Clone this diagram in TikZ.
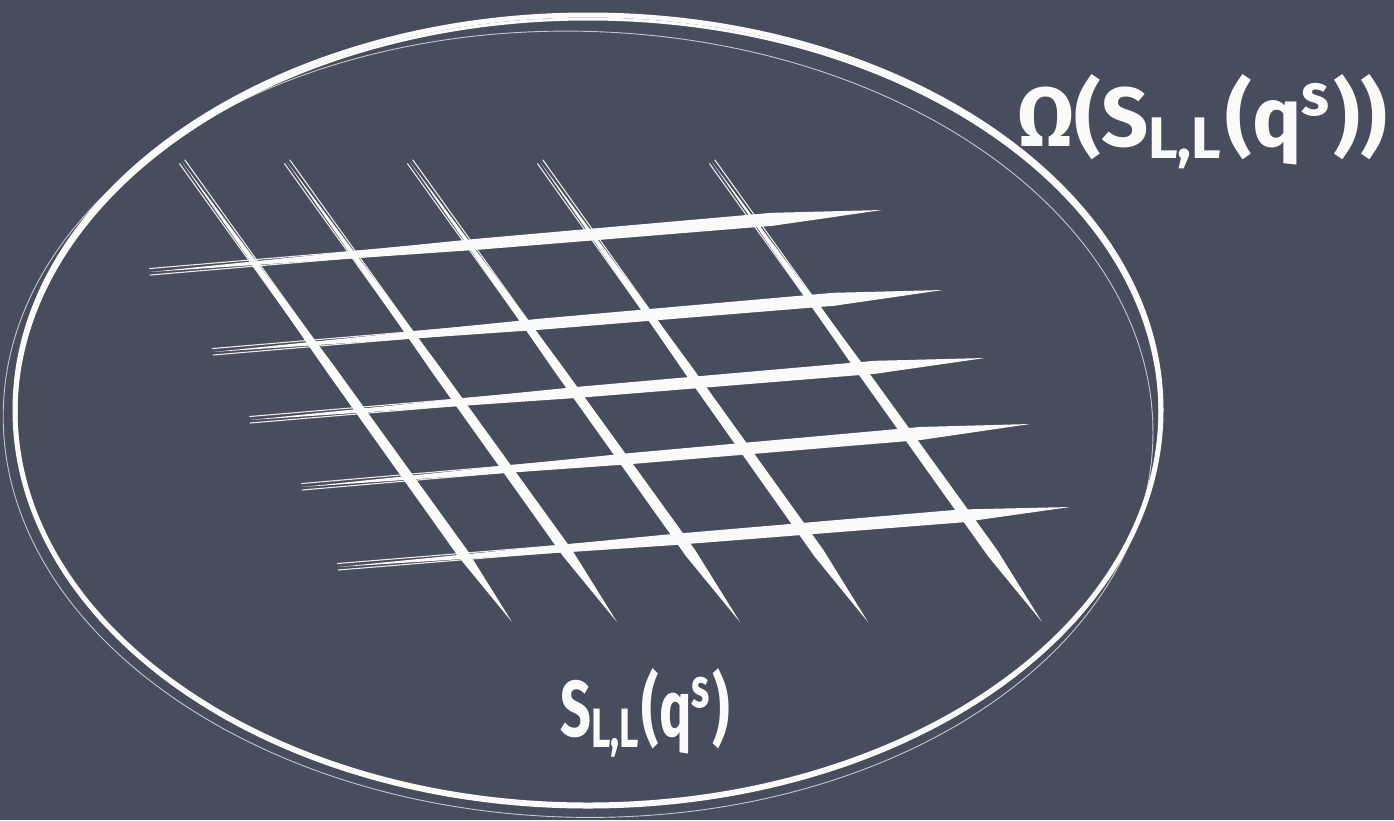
\documentclass[tikz,border=0pt]{standalone}
\usepackage{graphicx}
\usepackage{fontspec}
\newfontfamily\handfont{Fira Sans}
\usetikzlibrary{calc}
\definecolor{board}{RGB}{72,77,94}
\definecolor{chalkwhite}{RGB}{250,250,248}
\tikzset{
  chalkfill/.style={fill=chalkwhite},
  chalkthin/.style={draw=chalkwhite, line width=1.1pt, line cap=round, opacity=0.9},
  chalkring/.style={draw=chalkwhite, line width=5pt},
  chalkringthin/.style={draw=chalkwhite, line width=0.9pt, opacity=0.7},
  label/.style={text=chalkwhite, inner sep=0pt, font=\handfont\bfseries}
}
% tapered chalk stroke: #1 start, #2 end, #3 half width
\newcommand{\chalkstroke}[3]{%
  \fill[chalkfill] (#1)
     -- ($(#1)!0.25!(#2)!0.5*#3!90:(#2)$)
     -- ($(#1)!0.45!(#2)!0.85*#3!90:(#2)$)
     -- ($(#1)!0.85!(#2)!#3!90:(#2)$)
     -- (#2)
     -- ($(#1)!0.85!(#2)!#3!-90:(#2)$)
     -- ($(#1)!0.45!(#2)!0.85*#3!-90:(#2)$)
     -- ($(#1)!0.25!(#2)!0.5*#3!-90:(#2)$)
     -- cycle;
  \draw[chalkthin] ($(#1)!3.5pt!90:(#2)$) -- ($(#1)!0.6!(#2)!3.5pt!90:(#2)$);
  \draw[chalkthin] ($(#1)!3pt!-90:(#2)$) -- ($(#1)!0.5!(#2)!3pt!-90:(#2)$);
}
\begin{document}
\begin{tikzpicture}[x=1pt, y=-1pt]
\useasboundingbox (0,0) rectangle (1394,820);
\fill[board] (0,0) rectangle (1394,820);

% the outer set
\draw[chalkring] (588,410) ellipse [x radius=573pt, y radius=395pt];
\draw[draw=chalkwhite, line width=3pt] (588,413) ellipse [x radius=572pt, y radius=394pt];
\draw[chalkringthin] (589,409) [rotate=-1.5] ellipse [x radius=575pt, y radius=393pt];

% diagonal grid lines
\coordinate (d1a) at (182,162); \coordinate (d1b) at (512,622);
\coordinate (d2a) at (287,162); \coordinate (d2b) at (617,622);
\coordinate (d3a) at (410,162); \coordinate (d3b) at (740,622);
\coordinate (d4a) at (540,162); \coordinate (d4b) at (868,622);
\coordinate (d5a) at (712,162); \coordinate (d5b) at (1042,622);
\foreach \i in {1,...,5}{\chalkstroke{d\i a}{d\i b}{5.5pt}}

% horizontal grid lines
\coordinate (h1a) at (150,272); \coordinate (h1b) at (882,210);
\coordinate (h2a) at (213,352); \coordinate (h2b) at (943,290);
\coordinate (h3a) at (250,420); \coordinate (h3b) at (985,358);
\coordinate (h4a) at (302,487); \coordinate (h4b) at (1030,424);
\coordinate (h5a) at (338,567); \coordinate (h5b) at (1070,507);
\foreach \i in {1,...,5}{\chalkstroke{h\i a}{h\i b}{6.5pt}}

% labels
\node[label, anchor=base west] (omega) at (1017,146)
  {\resizebox{370pt}{72pt}{Ω(S\textsubscript{L,L}(q\textsuperscript{s}))}};
\node[label, anchor=base west] (sll) at (560,736)
  {\resizebox{170pt}{68pt}{S\textsubscript{L,L}(q\textsuperscript{s})}};
\end{tikzpicture}
\end{document}
